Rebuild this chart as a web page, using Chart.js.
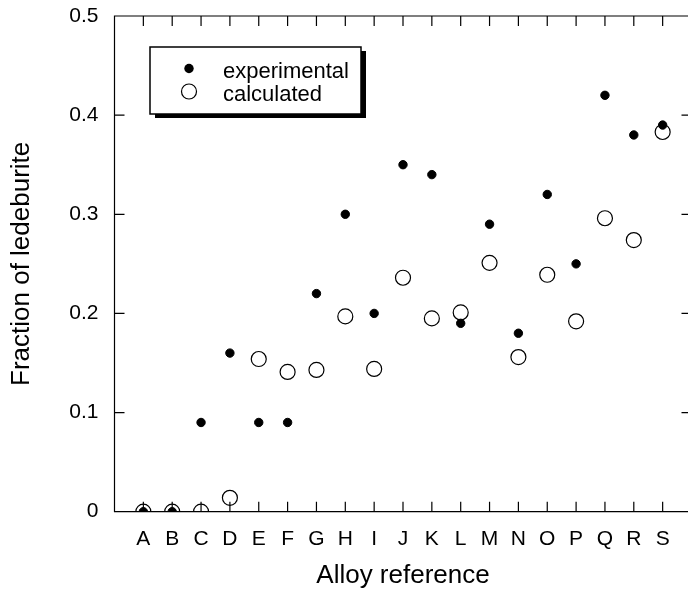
<!DOCTYPE html>
<html>
<head>
<meta charset="utf-8">
<script src="https://cdn.jsdelivr.net/npm/chart.js@4.4.1/dist/chart.umd.min.js"></script>
<style>
  html, body { margin: 0; padding: 0; background: #fff; overflow: hidden; }
  /* the plot's right edge sits just past the window, as in the source */
  #wrap { position: absolute; left: 0; top: 0; width: 692px; height: 594px; }
</style>
</head>
<body>
<div id="wrap"><canvas id="ledeburiteChart"></canvas></div>
<script>
// Data
const alloys = ['A', 'B', 'C', 'D', 'E', 'F', 'G', 'H', 'I', 'J', 'K', 'L', 'M', 'N', 'O', 'P', 'Q', 'R', 'S'];
const experimental = [0, 0, 0.09, 0.16, 0.09, 0.09, 0.22, 0.30, 0.20, 0.35, 0.34, 0.19, 0.29, 0.18, 0.32, 0.25, 0.42, 0.38, 0.39];
const calculated = [0, 0, 0, 0.014, 0.154, 0.141, 0.143, 0.197, 0.144, 0.236, 0.195, 0.201, 0.251, 0.156, 0.239, 0.192, 0.296, 0.274, 0.383];
const yTicks = [0, 0.1, 0.2, 0.3, 0.4, 0.5];

const FONT = "'Liberation Sans', Arial, Helvetica, sans-serif";
const TICK_LEN = 10;

function toPoints(values) {
  return values.map((v, i) => ({ x: i, y: v }));
}

// Box round the plot with ticks pointing inward on all four sides
const framePlugin = {
  id: 'frame',
  beforeDatasetsDraw(chart) {
    const c = chart.ctx;
    const a = chart.chartArea;
    const xs = chart.scales.x;
    const ys = chart.scales.y;
    c.save();
    c.strokeStyle = '#000';
    c.lineWidth = 1.2;
    c.beginPath();
    c.rect(a.left, a.top, a.right - a.left, a.bottom - a.top);
    for (let i = 0; i < alloys.length; i++) {
      const x = xs.getPixelForValue(i);
      c.moveTo(x, a.bottom);
      c.lineTo(x, a.bottom - TICK_LEN);
      c.moveTo(x, a.top);
      c.lineTo(x, a.top + TICK_LEN);
    }
    for (const v of yTicks) {
      const y = ys.getPixelForValue(v);
      c.moveTo(a.left, y);
      c.lineTo(a.left + TICK_LEN, y);
      c.moveTo(a.right, y);
      c.lineTo(a.right - TICK_LEN, y);
    }
    c.stroke();
    c.restore();
  }
};

// Legend box with a drop shadow, top left inside the plot
const legendPlugin = {
  id: 'boxLegend',
  afterDraw(chart) {
    const c = chart.ctx;
    const bx = 150, by = 47, bw = 211, bh = 67;
    c.save();
    c.fillStyle = '#000';
    c.fillRect(bx + 5, by + 4, bw, bh);
    c.fillStyle = '#fff';
    c.fillRect(bx, by, bw, bh);
    c.strokeStyle = '#000';
    c.lineWidth = 1.5;
    c.strokeRect(bx, by, bw, bh);

    const ds = chart.data.datasets;
    // filled dot
    c.beginPath();
    c.arc(189, 68.5, ds[0].pointRadius + 0.5, 0, Math.PI * 2);
    c.fillStyle = '#000';
    c.fill();
    // open circle
    c.beginPath();
    c.arc(189, 91.5, ds[1].pointRadius, 0, Math.PI * 2);
    c.lineWidth = ds[1].pointBorderWidth;
    c.stroke();

    c.fillStyle = '#000';
    c.font = '22px ' + FONT;
    c.textAlign = 'left';
    c.textBaseline = 'alphabetic';
    c.fillText(ds[0].label, 223, 78);
    c.fillText(ds[1].label, 223, 101);
    c.restore();
  }
};

const ctx = document.getElementById('ledeburiteChart').getContext('2d');
const ledeburiteChart = new Chart(ctx, {
  type: 'scatter',
  data: {
    datasets: [
      {
        label: 'experimental',
        data: toPoints(experimental),
        pointRadius: 4.2,
        pointBorderWidth: 1,
        pointBackgroundColor: '#000',
        pointBorderColor: '#000',
      },
      {
        label: 'calculated',
        data: toPoints(calculated),
        pointRadius: 7.5,
        pointBorderWidth: 1.2,
        pointBackgroundColor: 'rgba(0,0,0,0)',
        pointBorderColor: '#000',
      }
    ]
  },
  options: {
    responsive: true,
    maintainAspectRatio: false,
    animation: false,
    devicePixelRatio: 1,
    layout: {
      autoPadding: false, // no extra room for point radius
      padding: { top: 16, right: 0.5, bottom: 0, left: 0 }
    },
    scales: {
      x: {
        type: 'linear',
        min: -1,
        max: 19,
        afterFit(scale) {
          scale.height = 82.3;
          scale.paddingLeft = 0;
          scale.paddingRight = 0;
        },
        afterBuildTicks(scale) {
          scale.ticks = alloys.map((_, i) => ({ value: i }));
        },
        grid: { display: false, drawTicks: false },
        border: { display: false },
        ticks: {
          autoSkip: false,
          maxRotation: 0,
          padding: 15,
          color: '#000',
          font: { family: FONT, size: 21 },
          callback: value => alloys[value] ?? '',
        },
        title: {
          display: true,
          text: 'Alloy reference',
          color: '#000',
          font: { family: FONT, size: 26 },
          padding: { top: 0, bottom: 3 },
        },
      },
      y: {
        min: 0,
        max: 0.5,
        afterFit(scale) {
          scale.width = 114.5;
          scale.paddingTop = 0;
          scale.paddingBottom = 0;
        },
        afterBuildTicks(scale) {
          scale.ticks = yTicks.map(v => ({ value: v }));
        },
        grid: { display: false, drawTicks: false },
        border: { display: false },
        ticks: {
          padding: 16,
          color: '#000',
          font: { family: FONT, size: 21 },
          callback: value => (value === 0 ? '0' : value.toFixed(1)),
        },
        title: {
          display: true,
          text: 'Fraction of ledeburite',
          color: '#000',
          font: { family: FONT, size: 26 },
          padding: { top: 6, bottom: 0 },
        },
      },
    },
    plugins: {
      legend: { display: false },
      tooltip: { enabled: false },
    },
  },
  plugins: [framePlugin, legendPlugin],
});
</script>
</body>
</html>
